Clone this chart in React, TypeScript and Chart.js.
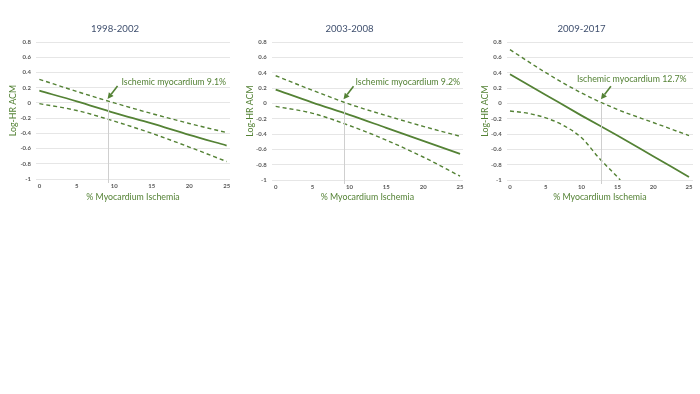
import React, { useEffect, useRef } from "react";
import { Chart, registerables } from "chart.js";

Chart.register(...registerables);

const GREEN = "#548235";
const FONT = "Lato";

const xTicks = [0, 5, 10, 15, 20, 25];
const yTicks = [0.8, 0.6, 0.4, 0.2, 0, -0.2, -0.4, -0.6, -0.8, -1];
const yTickLabels = ["0.8", "0.6", "0.4", "0.2", "0", "-0.2", "-0.4", "-0.6", "-0.8", "-1"];

const panelTitles = ["1998-2002", "2003-2008", "2009-2017"];
const cutoffs = [9.1, 9.2, 12.7];
const cutoffLabels = [
  "Ischemic myocardium 9.1%",
  "Ischemic myocardium 9.2%",
  "Ischemic myocardium 12.7%",
];

// Panel 1 (1998-2002)
const x1 = [0, 5, 10, 15, 20, 25];
const est1 = [0.16, 0.02, -0.13, -0.27, -0.42, -0.56];
const upper1 = [0.31, 0.15, 0.0, -0.14, -0.27, -0.39];
const lower1 = [-0.01, -0.1, -0.24, -0.4, -0.58, -0.77];

// Panel 2 (2003-2008)
const x2 = [0, 5, 10, 15, 20, 25];
const est2 = [0.18, 0.01, -0.15, -0.32, -0.49, -0.66];
const upper2 = [0.36, 0.17, -0.01, -0.16, -0.3, -0.43];
const lower2 = [-0.04, -0.13, -0.29, -0.48, -0.7, -0.95];

// Panel 3 (2009-2017)
const x3 = [0, 5, 10, 15, 20, 25];
const est3 = [0.38, 0.11, -0.16, -0.42, -0.69, -0.96];
const upper3 = [0.7, 0.4, 0.135, -0.08, -0.25, -0.42];
const x3Lower = [0, 2.5, 5, 7.5, 10, 12.5, 15, 15.4];
const lower3 = [-0.1, -0.13, -0.19, -0.29, -0.45, -0.72, -0.96, -1.0];

const panels = [
  { xs: x1, est: est1, up: upper1, lowX: x1, low: lower1 },
  { xs: x2, est: est2, up: upper2, lowX: x2, low: lower2 },
  { xs: x3, est: est3, up: upper3, lowX: x3Lower, low: lower3 },
];

// layout (not data)
const layouts = [
  { left: 0, width: 235, yW: 36, padR: 5, xMin: -0.45, xMax: 25.45, xH: 36, yTitlePad: 7, tdx: 14, tdy: -17 },
  { left: 236, width: 234, yW: 35.7, padR: 7, xMin: -0.54, xMax: 25.4, xH: 35, yTitlePad: 8, tdx: 12, tdy: -17 },
  { left: 470, width: 230, yW: 36.7, padR: 7, xMin: -0.46, xMax: 25.56, xH: 35, yTitlePad: 9, tdx: -24, tdy: -20 },
];
const CANVAS_H = 215;

function toPts(xs: number[], ys: number[]) {
  return xs.map((x, i) => ({ x, y: ys[i] }));
}

function Panel({ idx }: { idx: number }) {
  const ref = useRef<HTMLCanvasElement | null>(null);
  useEffect(() => {
    const p = panels[idx];
    const L = layouts[idx];
    const annot = {
      id: "annot" + idx,
      afterDatasetsDraw(chart: any) {
        const { ctx, chartArea } = chart;
        const xs = chart.scales.x;
        const ys = chart.scales.y;
        const px = xs.getPixelForValue(cutoffs[idx]);
        const py0 = ys.getPixelForValue(0);
        ctx.save();
        // vertical reference line
        ctx.strokeStyle = "#cfcfcf";
        ctx.lineWidth = 1;
        ctx.beginPath();
        ctx.moveTo(Math.round(px) + 0.5, py0);
        ctx.lineTo(Math.round(px) + 0.5, chartArea.bottom + 4);
        ctx.stroke();
        // arrow
        const tipX = px;
        const tipY = py0 - 4;
        const tailX = tipX + 10;
        const tailY = tipY - 13;
        const ang = Math.atan2(tipY - tailY, tipX - tailX);
        const hl = 6;
        const bx = tipX - hl * Math.cos(ang);
        const by = tipY - hl * Math.sin(ang);
        ctx.strokeStyle = GREEN;
        ctx.fillStyle = GREEN;
        ctx.lineWidth = 1.6;
        ctx.beginPath();
        ctx.moveTo(tailX, tailY);
        ctx.lineTo(bx, by);
        ctx.stroke();
        ctx.beginPath();
        ctx.moveTo(tipX, tipY);
        ctx.lineTo(bx + 3 * Math.sin(ang), by - 3 * Math.cos(ang));
        ctx.lineTo(bx - 3 * Math.sin(ang), by + 3 * Math.cos(ang));
        ctx.closePath();
        ctx.fill();
        // label
        ctx.font = `8.8px ${FONT}`;
        ctx.textAlign = "left";
        ctx.textBaseline = "middle";
        ctx.fillStyle = GREEN;
        ctx.fillText(cutoffLabels[idx], tipX + L.tdx, tipY + L.tdy);
        ctx.restore();
      },
    };
    const chart = new Chart(ref.current as HTMLCanvasElement, {
      type: "line",
      data: {
        datasets: [
          {
            data: toPts(p.xs, p.est),
            borderColor: GREEN,
            borderWidth: 1.8,
            pointRadius: 0,
            cubicInterpolationMode: "monotone",
          },
          {
            data: toPts(p.xs, p.up),
            borderColor: GREEN,
            borderWidth: 1.4,
            borderDash: [4, 3],
            pointRadius: 0,
            cubicInterpolationMode: "monotone",
          },
          {
            data: toPts(p.lowX, p.low),
            borderColor: GREEN,
            borderWidth: 1.4,
            borderDash: [4, 3],
            pointRadius: 0,
            cubicInterpolationMode: "monotone",
          },
        ],
      },
      options: {
        animation: false,
        responsive: false,
        maintainAspectRatio: false,
        layout: { padding: { left: 0, right: L.padR, top: 0, bottom: 0 } },
        plugins: {
          legend: { display: false },
          tooltip: { enabled: false },
          title: {
            display: true,
            text: panelTitles[idx],
            color: "#3f4f6e",
            font: { family: FONT, size: 9.6, weight: "normal" },
            padding: { top: 23, bottom: 7.5 },
          },
        },
        scales: {
          x: {
            type: "linear",
            min: L.xMin,
            max: L.xMax,
            afterBuildTicks: (s: any) => {
              s.ticks = xTicks.map((v) => ({ value: v }));
            },
            afterFit: (s: any) => {
              s.height = L.xH;
            },
            grid: { display: false, drawTicks: false },
            border: { display: false },
            ticks: {
              padding: 3,
              color: "#595959",
              font: { family: FONT, size: 6, weight: "bold" },
              maxRotation: 0,
              autoSkip: false,
            },
            title: {
              display: true,
              text: "% Myocardium Ischemia",
              color: GREEN,
              font: { family: FONT, size: 8.8 },
              padding: { top: 0, bottom: 12.5 },
            },
          },
          y: {
            type: "linear",
            min: -1,
            max: 0.8,
            afterBuildTicks: (s: any) => {
              s.ticks = yTicks.map((v) => ({ value: v }));
            },
            afterFit: (s: any) => {
              s.width = L.yW;
            },
            grid: { color: "#e6e6e6", lineWidth: 1, drawTicks: false },
            border: { display: false },
            ticks: {
              padding: 5,
              color: "#595959",
              font: { family: FONT, size: 6, weight: "bold" },
              autoSkip: false,
              callback: (_v: any, i: number) => yTickLabels[i],
            },
            title: {
              display: true,
              text: "Log-HR ACM",
              color: GREEN,
              font: { family: FONT, size: 8.8 },
              padding: { top: L.yTitlePad + 0.5, bottom: 0 },
            },
          },
        },
      } as any,
      plugins: [annot],
    });
    return () => chart.destroy();
  }, [idx]);
  const L = layouts[idx];
  return (
    <canvas
      ref={ref}
      width={L.width}
      height={CANVAS_H}
      style={{ position: "absolute", left: L.left, top: 0, width: L.width, height: CANVAS_H }}
    />
  );
}

export default function App() {
  return (
    <div style={{ position: "absolute", left: 0, top: 0, width: 700, height: 394, background: "#fff" }}>
      <Panel idx={0} />
      <Panel idx={1} />
      <Panel idx={2} />
    </div>
  );
}
